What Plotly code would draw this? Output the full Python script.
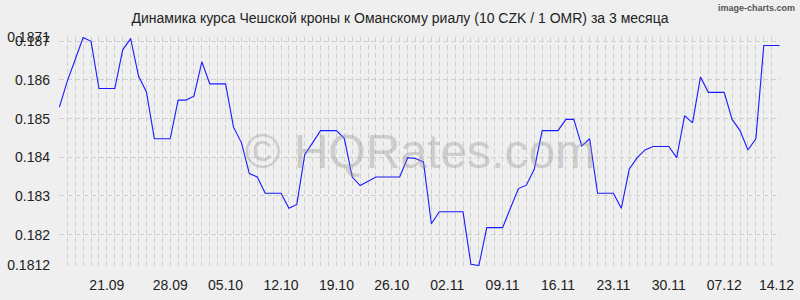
import plotly.graph_objects as go

title_text = "Динамика курса Чешской кроны к Оманскому риалу (10 CZK / 1 OMR) за 3 месяца"

rates = [
    0.18530, 0.18597, 0.18653, 0.18710, 0.18700, 0.18578, 0.18578, 0.18578,
    0.18678, 0.18707, 0.18610, 0.18569, 0.18448, 0.18448, 0.18448, 0.18548,
    0.18548, 0.18558, 0.18647, 0.18590, 0.18590, 0.18590, 0.18478, 0.18438,
    0.18358, 0.18349, 0.18307, 0.18307, 0.18307, 0.18268, 0.18278, 0.18407,
    0.18438, 0.18469, 0.18469, 0.18469, 0.18449, 0.18349, 0.18327, 0.18339,
    0.18349, 0.18349, 0.18349, 0.18349, 0.18399, 0.18397, 0.18388, 0.18228,
    0.18259, 0.18259, 0.18259, 0.18259, 0.18123, 0.18120, 0.18218, 0.18218,
    0.18218, 0.18269, 0.18319, 0.18328, 0.18369, 0.18469, 0.18469, 0.18469,
    0.18498, 0.18498, 0.18429, 0.18448, 0.18307, 0.18307, 0.18307, 0.18268,
    0.18369, 0.18399, 0.18419, 0.18428, 0.18428, 0.18428, 0.18399, 0.18508,
    0.18489, 0.18608, 0.18568, 0.18568, 0.18568, 0.18498, 0.18469, 0.18419,
    0.18448, 0.18689, 0.18689, 0.18689,
]
day_index = list(range(len(rates)))

date_labels = ["21.09", "28.09", "05.10", "12.10", "19.10", "26.10", "02.11",
               "09.11", "16.11", "23.11", "30.11", "07.12", "14.12"]
date_label_pos = [6, 14, 21, 28, 35, 42, 49, 56, 63, 70, 77, 84, 90.6]

y_ticks = [0.1812, 0.182, 0.183, 0.184, 0.185, 0.186, 0.187, 0.1871]
y_tick_text = ["0.1812", "0.182", "0.183", "0.184", "0.185", "0.186", "0.187", "0.1871"]
y_min, y_max = 0.1812, 0.1871

BG = "#efefef"
GRID = "#cfcfcf"
FONT = "Liberation Sans, Arial, sans-serif"

W, H = 800, 300
ML, MR, MT, MB = 59, 20, 37, 34
PW, PH = W - ML - MR, H - MT - MB

fig = go.Figure()
fig.add_trace(go.Scatter(
    x=day_index, y=rates, mode="lines",
    line=dict(color="#1a1aff", width=1.1),
    hoverinfo="skip", showlegend=False,
))

fig.update_layout(
    width=W, height=H,
    margin=dict(l=ML, r=MR, t=MT, b=MB, autoexpand=False),
    paper_bgcolor=BG, plot_bgcolor=BG,
    font=dict(family=FONT, size=14, color="#222222"),
    showlegend=False,
    title=dict(text=title_text, x=0.5, xanchor="center", y=1 - 18 / H,
               yanchor="middle", font=dict(family=FONT, size=14, color="#222222")),
    annotations=[
        dict(text="© HQRates.com", xref="paper", yref="paper", x=0.5, y=0.5,
             xanchor="center", yanchor="middle", showarrow=False,
             font=dict(family=FONT, size=48, color="rgba(150,150,150,0.40)")),
        dict(text="<b>image-charts.com</b>", xref="paper", yref="paper",
             x=(797 - ML) / PW, y=(H - MB - 1) / PH,
             xanchor="right", yanchor="top", showarrow=False,
             font=dict(family=FONT, size=9, color="#555555")),
    ],
)

eps_y = (y_max - y_min) * 0.002
fig.update_xaxes(
    range=[-0.05, len(rates) - 1 + 0.05],
    tickmode="array", tickvals=date_label_pos, ticktext=date_labels,
    showgrid=False, zeroline=False, showline=False, ticks="",
    ticklabelstandoff=9, automargin=False,
    tickfont=dict(family=FONT, size=14, color="#222222"),
    fixedrange=True,
    minor=dict(dtick=1, tick0=0, showgrid=True, gridcolor=GRID, griddash="5px,3px",
               gridwidth=1, ticks=""),
)
fig.update_yaxes(
    range=[y_min - eps_y, y_max + eps_y],
    tickmode="array", tickvals=y_ticks, ticktext=y_tick_text,
    showgrid=True, gridcolor=GRID, griddash="5px,3px", gridwidth=1,
    zeroline=False, showline=False, ticks="", ticklabelstandoff=8, automargin=False,
    tickfont=dict(family=FONT, size=14, color="#222222"),
    fixedrange=True,
)

fig.write_html("out.html")
